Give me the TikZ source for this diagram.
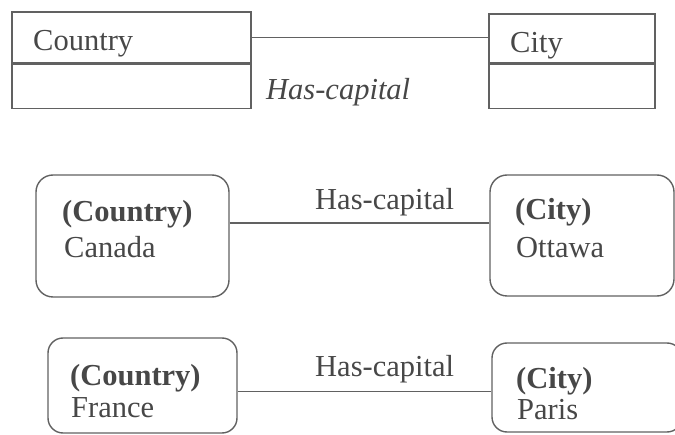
\documentclass[tikz,border=0pt]{standalone}
\usepackage{fontspec}
\setmainfont{Liberation Serif}
\begin{document}
\begin{tikzpicture}[x=1pt,y=-1pt,
  ink/.style={draw=black!62, line width=1.4pt},
  classpart/.style={ink, rectangle, inner sep=0pt},
  objbox/.style={ink, rectangle, rounded corners=17pt, inner sep=0pt},
  link/.style={ink},
  txt/.style={anchor=base west, inner sep=0pt, text=black!72,
    font=\fontsize{30.5}{35}\selectfont},
  bold/.style={txt, font=\fontsize{30.5}{35}\selectfont\bfseries}]
\useasboundingbox (0,0) rectangle (675,435);
\clip (0,0) rectangle (675,435);

% class diagram: Country -- City
\node[classpart, minimum width=239pt, minimum height=51pt] (countryhead) at (131.5,37.5) {};
\node[classpart, minimum width=239pt, minimum height=44pt, anchor=north] (countrybody) at (countryhead.south) {};
\node[classpart, minimum width=166pt, minimum height=49pt] (cityhead) at (572,38.5) {};
\node[classpart, minimum width=166pt, minimum height=44pt, anchor=north] (citybody) at (cityhead.south) {};
\node[txt] (countryname) at (33,51) {Country};
\node[txt] (cityname) at (510,53) {City};
\draw[link] (countryhead.east) -- (countryhead.east -| cityhead.west);
\node[txt, font=\fontsize{30.5}{35}\selectfont\itshape] (rolename) at (266,100) {Has-capital};

% object diagram: Canada -- Ottawa
\node[objbox, minimum width=193pt, minimum height=122pt] (canada) at (132.5,236) {};
\node[objbox, minimum width=184pt, minimum height=121pt] (ottawa) at (582,235.5) {};
\node[bold] (canadaclass) at (62,222) {(Country)};
\node[txt] (canadaname) at (64,258) {Canada};
\node[bold] (ottawaclass) at (515,220) {(City)};
\node[txt] (ottawaname) at (516,258) {Ottawa};
\draw[link] ([yshift=13pt]canada.east) -- ([yshift=13pt]canada.east -| ottawa.west);
\node[txt] (linkone) at (315,210) {Has-capital};

% object diagram: France -- Paris
\node[objbox, rounded corners=15pt, minimum width=189pt, minimum height=95pt] (france) at (142.5,385.5) {};
\node[objbox, rounded corners=15pt, minimum width=190pt, minimum height=89pt] (paris) at (587,387.5) {};
\node[bold] (franceclass) at (70,386) {(Country)};
\node[txt] (francename) at (71,418) {France};
\node[bold] (parisclass) at (516,389) {(City)};
\node[txt] (parisname) at (517,420) {Paris};
\draw[link] ([yshift=-6pt]france.east) -- ([yshift=-6pt]france.east -| paris.west);
\node[txt] (linktwo) at (315,377) {Has-capital};
\end{tikzpicture}
\end{document}
